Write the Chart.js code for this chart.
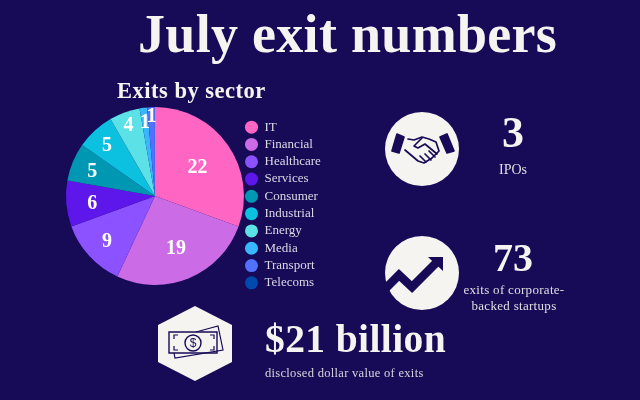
<!DOCTYPE html>
<html><head><meta charset="utf-8">
<script src="https://cdn.jsdelivr.net/npm/chart.js@4"></script>
<style>
html,body{margin:0;padding:0;background:#170b57;}
#wrap{position:relative;width:640px;height:400px;overflow:hidden;background:#170b57;font-family:"Liberation Serif",serif;color:#f6f4f1;}
canvas{position:absolute;left:0;top:0;}
svg{position:absolute;left:0;top:0;}
.t{position:absolute;white-space:nowrap;line-height:1;}
.c{transform:translateX(-50%);text-align:center;}
</style></head><body>
<div id="wrap">
<canvas id="c" width="640" height="400"></canvas>
<svg width="640" height="400" viewBox="0 0 640 400">
  <circle cx="422" cy="149" r="37" fill="#f6f4f1"/>
  <circle cx="422" cy="273" r="37" fill="#f6f4f1"/>
  <polygon points="195,306 232,325 232,362 195,381 158,362 158,325" fill="#f6f4f1"/>
  <g fill="none" stroke="#170b57" stroke-width="1.7" stroke-linejoin="round" stroke-linecap="round">
    <path d="M397,134 L404,137 L399,153 L392,151 Z" fill="#170b57"/>
    <path d="M447,134 L440,137 L447,153 L454,151 Z" fill="#170b57"/>
    <path d="M408,139 L414,140 L422,137 L429,139 L436,142 M405,150 L418,161 L424,163 L432,158 L439,151 L436,142"/>
    <path d="M422,138 L414,146 L418,148 L425,144 L437,154"/>
    <path d="M431,160 L425,154 M426,162 L420,156 M435,157 L429,151"/>
  </g>
  <polyline points="384,290 399,275 412,287 437,262" fill="none" stroke="#170b57" stroke-width="8.5"/>
  <polygon points="428,257 443,257 443,271" fill="#170b57"/>
  <g fill="none" stroke="#170b57" stroke-width="1.2">
    <path d="M169,332 L217,332 L217,353 L169,353 Z" stroke-width="1.4"/>
    <path d="M174,353 L175,358 L223,350 L218,326 L196,332"/>
    <circle cx="193" cy="343" r="8" stroke-width="1.4"/>
    <path d="M174,339 V335 H178 M210,335 H214 V339 M174,346 V350 H178 M210,350 H214 V346"/>
  </g>
  <text x="193" y="347" text-anchor="middle" font-size="12" font-family="Liberation Sans" fill="#170b57">$</text>
</svg>
<div class="t" style="left:138px;top:7px;font-size:54px;font-weight:700;letter-spacing:.3px;">July exit numbers</div>
<div class="t" style="left:117px;top:80px;font-size:22.5px;font-weight:700;letter-spacing:.5px;">Exits by sector</div>
<div class="t c" style="left:513px;top:111px;font-size:44px;font-weight:700;">3</div>
<div class="t c" style="left:513px;top:163px;font-size:14px;opacity:.9;">IPOs</div>
<div class="t c" style="left:513px;top:238px;font-size:40px;font-weight:700;">73</div>
<div class="t c" style="left:514px;top:283px;font-size:13px;opacity:.9;letter-spacing:.3px;">exits of corporate-</div>
<div class="t c" style="left:514px;top:299px;font-size:13px;opacity:.9;letter-spacing:.3px;">backed startups</div>
<div class="t" style="left:265px;top:320px;font-size:39.5px;font-weight:700;letter-spacing:.4px;">$21 billion</div>
<div class="t" style="left:265px;top:367px;font-size:12.5px;opacity:.85;letter-spacing:.3px;">disclosed dollar value of exits</div>
</div>
<script>
const sectors = ["IT","Financial","Healthcare","Services","Consumer","Industrial","Energy","Media","Transport","Telecoms"];
const exits = [22,19,9,6,5,5,4,1,1,0];
const sliceColors = ["#ff66c4","#cb6ce6","#8c52ff","#5e17eb","#0097b2","#0cc0df","#5ce1e6","#38b6ff","#5271ff","#004aad"];
const labelRadii = [52,55,65,63,68,71,77,76,81,0];

const sliceNumbers = {
  id:'sliceNumbers',
  afterDatasetsDraw(chart){
    const ctx = chart.ctx, arcs = chart.getDatasetMeta(0).data;
    ctx.save();
    ctx.font = '700 20px "Liberation Serif"';
    ctx.fillStyle = '#ffffff';
    ctx.textAlign = 'center';
    ctx.textBaseline = 'middle';
    arcs.forEach((a,i)=>{
      const v = exits[i];
      if(!v) return;
      const mid = (a.startAngle+a.endAngle)/2;
      ctx.fillText(String(v), a.x+Math.cos(mid)*labelRadii[i], a.y+2+Math.sin(mid)*labelRadii[i]);
    });
    ctx.restore();
  }
};
const placeLegend = {
  id:'placeLegend',
  afterLayout(chart){
    const l = chart.legend;
    const h = l.bottom-l.top;
    l.left = 240.7; l.right = l.left+l.width;
    l.top = 205-h/2; l.bottom = l.top+h;
  }
};
new Chart(document.getElementById('c'),{
  type:'pie',
  data:{labels:sectors,datasets:[{data:exits,backgroundColor:sliceColors,borderWidth:0}]},
  options:{
    responsive:false,animation:false,devicePixelRatio:1,
    layout:{padding:{left:66,right:306,top:20,bottom:28}},
    plugins:{
      tooltip:{enabled:false},
      legend:{
        display:true,position:'right',align:'center',
        labels:{usePointStyle:true,pointStyle:'circle',boxWidth:14,boxHeight:9.2,padding:4.3,color:'#dcd8e6',font:{family:'"Liberation Serif"',size:13}}
      }
    }
  },
  plugins:[sliceNumbers,placeLegend]
});
</script>
</body></html>
